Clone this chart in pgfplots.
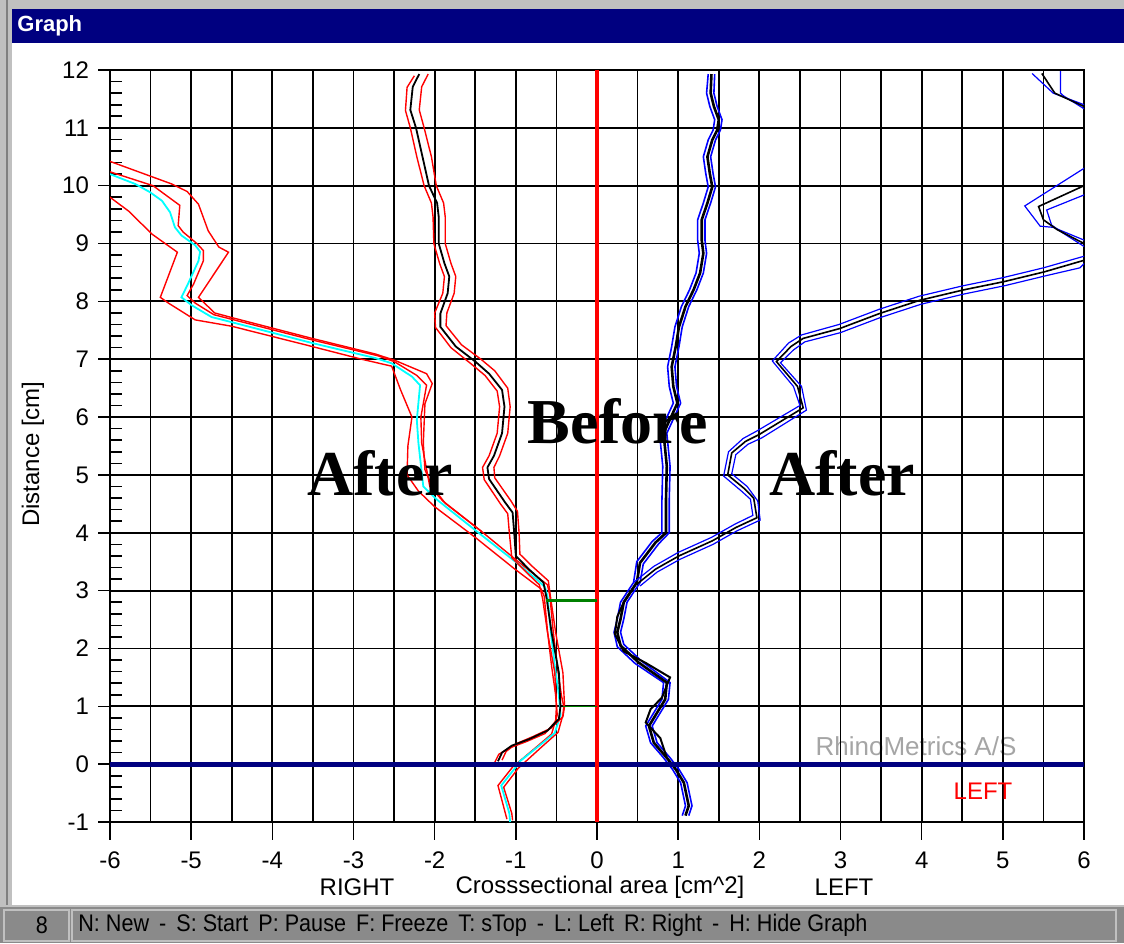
\documentclass[border=0pt]{standalone}
\usepackage{pgfplots}
\pgfplotsset{compat=1.18}
\usepackage{fontspec}
\setmainfont{Liberation Sans}
\newfontfamily\timesfont{Liberation Serif}
\newfontfamily\narrowfont[FakeStretch=0.9]{Liberation Sans}
\definecolor{winnavy}{RGB}{0,0,128}
\definecolor{winsilver}{RGB}{192,192,192}
\definecolor{statusgray}{RGB}{138,138,138}
\definecolor{wmgray}{RGB}{165,165,165}
\definecolor{dkgreen}{RGB}{0,128,0}
\definecolor{pcyan}{RGB}{0,255,255}
\definecolor{pred}{RGB}{255,0,0}
\definecolor{pblue}{RGB}{0,0,255}
\begin{document}
\begin{tikzpicture}[x=0.5pt,y=0.5pt]
% window frame
\fill[winsilver] (0,0) rectangle (1124,943);
\draw[gray,line width=1pt] (7,0) -- (7,943);
\fill[white] (12,38) rectangle (1124,900);
\fill[winnavy] (12,934) rectangle (1124,900);
\node[anchor=west,text=white,font=\bfseries\fontsize{11}{13}\selectfont,inner sep=0pt] at (17,917) {Graph};
\fill[statusgray] (0,0) rectangle (1124,37);
\draw[winsilver,line width=1pt] (0,37.5) -- (1124,37.5);
\draw[winsilver,line width=0.8pt] (4,2) rectangle (69,33);
\draw[winsilver,line width=0.8pt] (72,2) rectangle (1116,33);
\node[font=\narrowfont\fontsize{12}{14}\selectfont,inner sep=0pt] at (42,18) {8};
\node[anchor=west,font=\narrowfont\fontsize{12}{14}\selectfont,inner sep=0pt] at (78,18) {N: New \,-\, S: Start \,P: Pause \,F: Freeze \,T: sTop \,-\, L: Left \,R: Right \,-\, H: Hide Graph};
% watermark behind the grid
\node[text=wmgray,font=\fontsize{13}{15}\selectfont,inner sep=0pt] at (916,197) {RhinoMetrics A/S};

\begin{axis}[
  at={(55pt,60.5pt)}, anchor=south west, scale only axis,
  width=487pt, height=376pt,
  xmin=-6, xmax=6, ymin=-1, ymax=12,
  xtick={-6,...,6}, ytick={-1,...,12},
  minor x tick num=1, minor y tick num=4,
  xmajorgrids, xminorgrids, ymajorgrids,
  major grid style={black,line width=0.9pt},
  minor grid style={black,line width=0.9pt},
  tick align=inside, major tick length=0pt, minor tick length=6pt,
  xtick pos=bottom, ytick pos=left,
  tick style={black,line width=0.8pt},
  axis line style={black,line width=0.9pt},
  every tick label/.append style={font=\fontsize{12}{14}\selectfont},
  xticklabel style={anchor=center,yshift=-19pt},
  yticklabel style={anchor=east,xshift=-7pt},
  /pgf/number format/assume math mode=true,
]
% ---------- After, right side (cyan + red bands)
\addplot[pred,line width=0.7pt] coordinates {
(-1.11,-0.95) (-1.22,-0.37) (-1.04,-0.05) (-0.76,0.28) (-0.56,0.52) (-0.49,0.85) (-0.51,1.2) (-0.56,1.7) (-0.61,2.3) (-0.65,2.9) (-0.69,3.03) (-1.02,3.38) (-1.5,3.92) (-2.0,4.45) (-2.2,4.72) (-2.34,5.0) (-2.33,5.5) (-2.28,6.0) (-2.42,6.47) (-2.53,6.88) (-2.9,7.0) (-3.51,7.22) (-4.5,7.57) (-4.95,7.68) (-5.28,7.97) (-5.38,8.07) (-5.17,8.85) (-5.48,9.16) (-5.77,9.56) (-6.0,9.8)};
\addplot[pred,line width=0.7pt] coordinates {
(-1.04,-0.97) (-1.05,-0.85) (-1.15,-0.4) (-0.97,-0.07) (-0.68,0.3) (-0.48,0.55) (-0.42,0.85) (-0.41,1.0) (-0.44,1.2) (-0.49,1.7) (-0.54,2.3) (-0.58,2.9) (-0.61,3.1) (-0.9,3.42) (-1.42,4.02) (-1.9,4.55) (-2.06,4.8) (-2.16,5.55) (-2.17,6.0) (-2.1,6.55) (-2.22,6.72) (-2.5,6.96) (-2.7,7.06) (-3.5,7.33) (-4.5,7.69) (-4.72,7.77) (-4.95,7.97) (-5.05,8.1) (-4.97,8.3) (-4.85,8.7) (-4.85,8.88) (-4.93,9.0) (-5.1,9.2) (-5.16,9.31) (-5.14,9.66) (-5.47,10.0) (-6.0,10.24)};
\addplot[pred,line width=0.7pt] coordinates {
(-1.42,4.02) (-1.87,4.51) (-2.03,4.8) (-2.12,5.09) (-2.14,5.55) (-2.12,6.23) (-2.03,6.58) (-2.1,6.75) (-2.49,6.98) (-2.73,7.09) (-3.51,7.36) (-4.5,7.72) (-4.71,7.8) (-4.91,8.07) (-4.54,8.85) (-4.66,8.94) (-4.79,9.22) (-4.91,9.68) (-5.05,9.9) (-5.24,10.03) (-6.0,10.42)};
\addplot[pcyan,line width=0.9pt] coordinates {
(-1.07,-1.0) (-1.08,-0.85) (-1.18,-0.37) (-1.0,-0.05) (-0.95,0.05) (-0.72,0.31) (-0.52,0.54) (-0.45,0.85) (-0.47,1.2) (-0.52,1.7) (-0.57,2.3) (-0.61,2.9) (-0.64,3.06) (-0.75,3.2) (-0.97,3.46) (-1.46,4.0) (-1.97,4.57) (-2.14,4.8) (-2.2,5.55) (-2.22,5.95) (-2.18,6.55) (-2.28,6.7) (-2.53,6.93) (-2.73,7.02) (-3.51,7.28) (-4.5,7.64) (-4.75,7.73) (-4.99,7.93) (-5.12,8.07) (-5.04,8.3) (-4.91,8.7) (-4.89,8.86) (-4.95,8.97) (-5.12,9.14) (-5.2,9.28) (-5.26,9.54) (-5.36,9.74) (-5.51,9.89) (-5.69,10.03) (-6.0,10.2)};
% ---------- Before, right side (black + red bands)
\addplot[pred,line width=0.7pt] coordinates {
(-1.26,0.03) (-1.21,0.17) (-1.08,0.28) (-0.87,0.39) (-0.64,0.53) (-0.51,0.74) (-0.5,1.0) (-0.52,1.58) (-0.61,2.28) (-0.67,2.86) (-0.71,3.1) (-0.88,3.33) (-1.05,3.57) (-1.08,4.0) (-1.1,4.33) (-1.19,4.5) (-1.39,4.92) (-1.41,5.13) (-1.33,5.33) (-1.23,5.72) (-1.2,6.18) (-1.23,6.45) (-1.38,6.72) (-1.56,6.93) (-1.8,7.2) (-1.99,7.55) (-2.0,7.8) (-1.9,8.14) (-1.88,8.43) (-1.94,8.66) (-2.01,9.0) (-2.02,9.46) (-2.04,9.7) (-2.13,10.0) (-2.22,10.5) (-2.3,11.0) (-2.36,11.3) (-2.34,11.7) (-2.25,11.9)};
\addplot[pred,line width=0.7pt] coordinates {
(-1.17,0.07) (-1.12,0.22) (-1.0,0.35) (-0.8,0.47) (-0.57,0.62) (-0.42,0.82) (-0.4,1.0) (-0.42,1.58) (-0.51,2.28) (-0.57,2.86) (-0.6,3.17) (-0.79,3.41) (-0.95,3.63) (-0.96,4.0) (-0.98,4.37) (-1.06,4.55) (-1.26,4.95) (-1.27,5.13) (-1.2,5.33) (-1.1,5.72) (-1.07,6.18) (-1.1,6.5) (-1.26,6.8) (-1.43,7.0) (-1.67,7.25) (-1.86,7.58) (-1.85,7.8) (-1.76,8.14) (-1.74,8.43) (-1.8,8.66) (-1.87,9.0) (-1.87,9.46) (-1.89,9.7) (-1.98,10.0) (-2.04,10.5) (-2.13,11.0) (-2.19,11.31) (-2.16,11.71) (-2.08,11.93)};
\addplot[black,line width=0.9pt] coordinates {
(-1.22,0.05) (-1.17,0.2) (-1.05,0.32) (-0.84,0.43) (-0.61,0.58) (-0.47,0.78) (-0.45,1.0) (-0.47,1.58) (-0.56,2.28) (-0.62,2.86) (-0.66,3.14) (-0.84,3.37) (-1.0,3.6) (-1.02,4.0) (-1.04,4.35) (-1.13,4.52) (-1.33,4.93) (-1.35,5.13) (-1.27,5.33) (-1.17,5.72) (-1.14,6.18) (-1.17,6.47) (-1.33,6.75) (-1.5,6.96) (-1.74,7.22) (-1.93,7.56) (-1.93,7.79) (-1.84,8.14) (-1.82,8.43) (-1.88,8.66) (-1.95,9.0) (-1.95,9.46) (-1.97,9.7) (-2.07,10.0) (-2.15,10.5) (-2.23,11.0) (-2.30,11.31) (-2.27,11.71) (-2.19,11.93)};
% ---------- Before, left side (black + blue bands)
\addplot[pblue,line width=0.8pt] coordinates {
(1.05,-0.89) (1.09,-0.72) (1.03,-0.32) (0.93,-0.09) (0.82,0.11) (0.66,0.37) (0.60,0.66) (0.70,0.89) (0.80,1.12) (0.82,1.41) (0.47,1.74) (0.25,2.03) (0.21,2.28) (0.25,2.51) (0.29,2.8) (0.45,3.14) (0.49,3.5) (0.68,3.85) (0.80,4.0) (0.80,4.57) (0.81,5.15) (0.77,5.72) (0.94,6.24) (0.89,6.53) (0.87,6.87) (0.92,7.22) (0.96,7.56) (1.04,7.91) (1.14,8.2) (1.22,8.49) (1.26,8.83) (1.24,9.06) (1.24,9.41) (1.31,9.7) (1.37,9.98) (1.34,10.21) (1.31,10.5) (1.37,10.79) (1.43,10.96) (1.45,11.14) (1.39,11.37) (1.35,11.6) (1.37,11.93)};
\addplot[pblue,line width=0.8pt] coordinates {
(1.13,-0.89) (1.17,-0.72) (1.11,-0.32) (1.01,-0.09) (0.90,0.11) (0.74,0.37) (0.68,0.66) (0.78,0.89) (0.88,1.12) (0.90,1.41) (0.55,1.78) (0.33,2.07) (0.29,2.28) (0.33,2.51) (0.37,2.8) (0.53,3.14) (0.57,3.46) (0.76,3.81) (0.89,4.0) (0.89,4.57) (0.90,5.15) (0.86,5.72) (1.03,6.24) (0.98,6.53) (0.96,6.87) (1.01,7.22) (1.05,7.56) (1.13,7.91) (1.23,8.2) (1.31,8.49) (1.35,8.83) (1.33,9.06) (1.33,9.41) (1.40,9.7) (1.46,9.98) (1.43,10.21) (1.40,10.5) (1.46,10.79) (1.52,10.96) (1.54,11.14) (1.48,11.37) (1.44,11.6) (1.45,11.93)};
\addplot[black,line width=1.3pt] coordinates {
(1.09,-0.89) (1.13,-0.72) (1.07,-0.32) (0.97,-0.09) (0.86,0.11) (0.70,0.37) (0.64,0.66) (0.74,0.89) (0.84,1.12) (0.86,1.41) (0.51,1.76) (0.29,2.05) (0.25,2.28) (0.29,2.51) (0.33,2.8) (0.49,3.14) (0.53,3.48) (0.72,3.83) (0.85,4.0) (0.85,4.57) (0.86,5.15) (0.82,5.72) (0.99,6.24) (0.94,6.53) (0.92,6.87) (0.97,7.22) (1.01,7.56) (1.09,7.91) (1.19,8.2) (1.27,8.49) (1.31,8.83) (1.29,9.06) (1.29,9.41) (1.36,9.7) (1.42,9.98) (1.39,10.21) (1.36,10.5) (1.42,10.79) (1.48,10.96) (1.5,11.14) (1.44,11.37) (1.40,11.6) (1.41,11.93)};
\addplot[black,line width=1.0pt] coordinates {
(0.86,0.11) (0.78,0.45) (0.60,0.72) (0.66,0.95) (0.80,1.15) (0.90,1.5) (0.6,1.75) (0.33,1.95) (0.22,2.25) (0.25,2.55) (0.33,2.8) (0.49,3.14)};
% ---------- After, left side (black + blue bands)
\addplot[pblue,line width=0.6pt] coordinates {
(0.45,3.14) (0.70,3.42) (1.0,3.66) (1.41,3.92) (1.70,4.15) (1.92,4.30) (1.89,4.58) (1.78,4.72) (1.56,4.98) (1.62,5.40) (1.80,5.63) (1.97,5.76) (2.50,6.2) (2.42,6.53) (2.16,6.97) (2.36,7.28) (2.52,7.42) (2.98,7.6) (3.47,7.86) (3.97,8.09) (4.51,8.27) (5.0,8.41) (5.5,8.58) (6.0,8.78) (6.4,8.9) (6.0,9.06) (5.62,9.28) (5.46,9.3) (5.27,9.65) (6.0,10.3) (6.5,10.8) (6.5,11.3) (6.0,11.4) (5.62,11.6) (5.36,11.94)};
\addplot[pblue,line width=0.6pt] coordinates {
(0.53,3.08) (0.74,3.32) (1.02,3.54) (1.43,3.80) (1.72,4.03) (2.01,4.22) (1.98,4.55) (1.85,4.8) (1.66,5.02) (1.71,5.35) (1.86,5.53) (2.03,5.64) (2.58,6.12) (2.52,6.53) (2.26,6.94) (2.42,7.16) (2.56,7.3) (3.0,7.46) (3.49,7.72) (3.99,7.95) (4.53,8.13) (5.02,8.27) (5.52,8.44) (5.95,8.58) (6.0,8.65) (6.4,8.8) (6.0,8.95) (5.72,9.2) (5.6,9.32) (5.54,9.58) (6.0,9.84) (6.5,10.5) (6.5,11.2) (6.0,11.33) (5.75,11.55) (5.71,11.6) (5.71,11.98)};
\addplot[black,line width=0.8pt] coordinates {
(0.49,3.11) (0.72,3.37) (1.01,3.6) (1.42,3.86) (1.71,4.09) (1.97,4.26) (1.93,4.6) (1.81,4.77) (1.61,5.0) (1.66,5.38) (1.83,5.58) (2.0,5.7) (2.54,6.16) (2.47,6.53) (2.21,6.96) (2.39,7.22) (2.54,7.36) (2.99,7.53) (3.48,7.79) (3.98,8.02) (4.52,8.2) (5.01,8.34) (5.51,8.51) (6.0,8.71) (6.4,8.85) (6.0,9.0) (5.67,9.24) (5.5,9.41) (5.44,9.64) (6.0,10.0) (6.4,10.5) (6.4,11.2) (6.0,11.37) (5.64,11.6) (5.48,11.94)};
% ---------- reference lines
\addplot[winnavy,line width=2.6pt] coordinates {(-6,0) (6,0)};
\addplot[pred,line width=2.1pt] coordinates {(0,-1) (0,12)};
\addplot[dkgreen,line width=1.6pt] coordinates {(-0.63,2.83) (0,2.83)};
\addplot[dkgreen,line width=0.7pt] coordinates {(-0.42,1.0) (0,1.0)};
\end{axis}
% outward major ticks
\foreach \k in {0,...,13} \draw[black,line width=0.8pt] (98,{121+\k*57.846}) -- (110,{121+\k*57.846});
\foreach \k in {0,...,12} \draw[black,line width=0.8pt] ({110+\k*81.1667},121) -- ({110+\k*81.1667},103);
% annotations
\node[anchor=base,font=\timesfont\bfseries\fontsize{32}{36}\selectfont,inner sep=0pt] at (618,499) {Before};
\node[anchor=base,font=\timesfont\bfseries\fontsize{32}{36}\selectfont,inner sep=0pt] at (380,447) {After};
\node[anchor=base,font=\timesfont\bfseries\fontsize{32}{36}\selectfont,inner sep=0pt] at (842,447) {After};
\node[text=pred,font=\fontsize{12}{14}\selectfont,inner sep=0pt] at (983,152) {LEFT};
% axis titles
\node[font=\fontsize{12}{14}\selectfont,inner sep=0pt] at (357,56) {RIGHT};
\node[font=\fontsize{12}{14}\selectfont,inner sep=0pt] at (600,56) {Crosssectional area [cm\textasciicircum 2]};
\node[font=\fontsize{12}{14}\selectfont,inner sep=0pt] at (844,56) {LEFT};
\node[rotate=90,font=\fontsize{12}{14}\selectfont,inner sep=0pt] at (33,489) {Distance [cm]};
\pgfresetboundingbox
\useasboundingbox (0,0) rectangle (1124,943);
\end{tikzpicture}
\end{document}
